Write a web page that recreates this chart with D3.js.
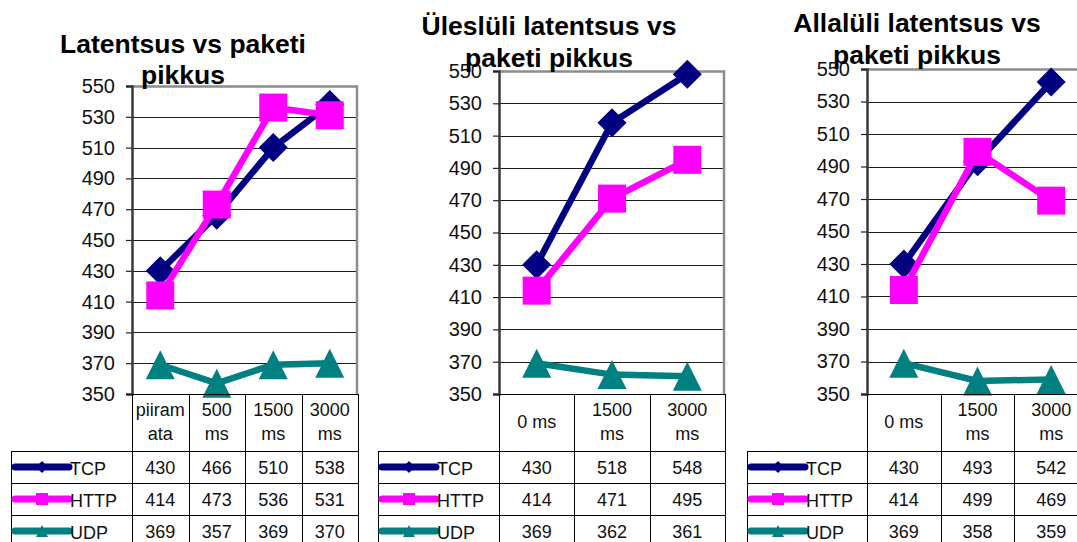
<!DOCTYPE html>
<html>
<head>
<meta charset="utf-8">
<script src="https://cdn.jsdelivr.net/npm/d3@7"></script>
<style>
  html, body { margin: 0; padding: 0; background: #fff; }
  svg { display: block; font-family: "Liberation Sans", Arial, sans-serif; }
</style>
</head>
<body>
<svg id="chart" width="1077" height="542"></svg>
<script>
// ---- Data ----
const seriesNames = ["TCP", "HTTP", "UDP"];
const seriesColors = ["#000080", "#FF00FF", "#008080"];
const seriesMarkers = ["diamond", "square", "triangle"];
const yTicks = [350, 370, 390, 410, 430, 450, 470, 490, 510, 530, 550];

// Panel 1: overall latency
const titles1 = ["Latentsus vs paketi", "pikkus"];
const categories1 = [["piiram", "ata"], ["500", "ms"], ["1500", "ms"], ["3000", "ms"]];
const tcp1 = [430, 466, 510, 538];
const http1 = [414, 473, 536, 531];
const udp1 = [369, 357, 369, 370];

// Panel 2: uplink latency
const titles2 = ["Üleslüli latentsus vs", "paketi pikkus"];
const categories2 = [["0 ms"], ["1500", "ms"], ["3000", "ms"]];
const tcp2 = [430, 518, 548];
const http2 = [414, 471, 495];
const udp2 = [369, 362, 361];

// Panel 3: downlink latency
const titles3 = ["Allalüli latentsus vs", "paketi pikkus"];
const categories3 = [["0 ms"], ["1500", "ms"], ["3000", "ms"]];
const tcp3 = [430, 493, 542];
const http3 = [414, 499, 469];
const udp3 = [369, 358, 359];

// ---- Layout of each panel ----
const panels = [
  { titles: titles1, cats: categories1, series: [tcp1, http1, udp1],
    left: 132, right: 358, top: 86, titleX: 183, titleY: [53, 84], legendLeft: 11 },
  { titles: titles2, cats: categories2, series: [tcp2, http2, udp2],
    left: 499, right: 725, top: 71, titleX: 549, titleY: [35, 67], legendLeft: 378 },
  { titles: titles3, cats: categories3, series: [tcp3, http3, udp3],
    left: 867, right: 1088, top: 69, titleX: 917, titleY: [32, 64], legendLeft: 747 }
];

const bottom = 394;          // y of value 350 / top of the data table
const headerBottom = 451;    // bottom of category header row
const rowH = 32;             // data table row height

const svg = d3.select("#chart");

function markerPath(type, size) {
  const h = size / 2;
  if (type === "diamond") return `M0,${-h}L${h},0L0,${h}L${-h},0Z`;
  if (type === "square") return `M${-h},${-h}H${h}V${h}H${-h}Z`;
  // triangle, bounding box centred on the point
  return `M0,${-h}L${h},${h}L${-h},${h}Z`;
}
const markerSize = { diamond: 29, square: 28, triangle: 29 };

panels.forEach(p => {
  const g = svg.append("g");
  const idx = p.cats.map((_, i) => i);

  const y = d3.scaleLinear().domain([350, 550]).range([bottom, p.top]);
  const x = d3.scaleBand().domain(idx).range([p.left, p.right]).padding(0);
  const cx = i => x(i) + x.bandwidth() / 2;

  // horizontal gridlines
  g.append("g").selectAll("line").data(yTicks.slice(1, -1)).join("line")
    .attr("x1", p.left).attr("x2", p.right)
    .attr("y1", d => Math.round(y(d)) + 0.5).attr("y2", d => Math.round(y(d)) + 0.5)
    .attr("stroke", "#1a1a1a").attr("stroke-width", 1.2);

  // plot area border (top and right)
  g.append("path")
    .attr("d", `M${p.left},${p.top + 0.5}H${p.right - 1}V${bottom}`)
    .attr("fill", "none").attr("stroke", "#8c8c8c").attr("stroke-width", 2.5);

  // y axis
  const yAxis = d3.axisLeft(y).tickValues(yTicks).tickSize(6).tickPadding(11)
    .tickFormat(d3.format("d"));
  const ax = g.append("g").attr("transform", `translate(${p.left},0)`).call(yAxis);
  ax.select(".domain").attr("stroke", "#3a3a3a").attr("stroke-width", 2.5);
  ax.selectAll(".tick line").attr("stroke", "#222").attr("stroke-width", 1.2);
  ax.selectAll(".tick text").attr("font-size", 20).attr("fill", "#111")
    .attr("font-family", "'Liberation Sans', Arial, sans-serif");

  // series lines and markers
  p.series.forEach((vals, s) => {
    const line = d3.line().x((d, i) => cx(i)).y(d => y(d));
    g.append("path").datum(vals).attr("d", line)
      .attr("fill", "none").attr("stroke", seriesColors[s]).attr("stroke-width", 6.5)
      .attr("stroke-linejoin", "miter");
    g.append("g").selectAll("path").data(vals).join("path")
      .attr("transform", (d, i) => `translate(${cx(i)},${y(d)})`)
      .attr("d", markerPath(seriesMarkers[s], markerSize[seriesMarkers[s]]))
      .attr("fill", seriesColors[s]);
  });

  // ---- data table ----
  const tbl = g.append("g").attr("stroke", "#000").attr("stroke-width", 1);
  const tableBottom = headerBottom + rowH * seriesNames.length;
  // vertical dividers between categories
  idx.concat([idx.length]).forEach(i => {
    const xv = Math.round(i < idx.length ? x(i) : p.right) + 0.5;
    tbl.append("line").attr("x1", xv).attr("x2", xv).attr("y1", bottom).attr("y2", tableBottom);
  });
  // legend column left edge
  tbl.append("line").attr("x1", p.legendLeft + 0.5).attr("x2", p.legendLeft + 0.5)
    .attr("y1", headerBottom).attr("y2", tableBottom);
  // horizontal row lines
  [headerBottom, headerBottom + rowH, headerBottom + 2 * rowH].forEach(yy => {
    tbl.append("line").attr("x1", p.legendLeft).attr("x2", p.right)
      .attr("y1", yy + 0.5).attr("y2", yy + 0.5);
  });
  tbl.append("line").attr("x1", p.left).attr("x2", p.right)
    .attr("y1", bottom + 0.5).attr("y2", bottom + 0.5);

  // category header labels
  p.cats.forEach((lines, i) => {
    const t = g.append("text").attr("x", cx(i)).attr("text-anchor", "middle")
      .attr("font-size", 18).attr("fill", "#111");
    if (lines.length === 1) {
      t.attr("y", 428).text(lines[0]);
    } else {
      lines.forEach((ln, k) => {
        t.append("tspan").attr("x", cx(i)).attr("y", 416 + k * 24).text(ln);
      });
    }
  });

  // table rows: legend key + values
  seriesNames.forEach((name, s) => {
    const rowTop = headerBottom + s * rowH;
    const mid = rowTop + rowH / 2;
    const kx1 = p.legendLeft + 4, kx2 = p.legendLeft + 58;
    g.append("line").attr("x1", kx1).attr("x2", kx2).attr("y1", mid).attr("y2", mid)
      .attr("stroke", seriesColors[s]).attr("stroke-width", 7).attr("stroke-linecap", "round");
    g.append("path").attr("transform", `translate(${(kx1 + kx2) / 2},${mid})`)
      .attr("d", markerPath(seriesMarkers[s], 12)).attr("fill", seriesColors[s]);
    g.append("text").attr("x", kx2 + 1).attr("y", mid + 8)
      .attr("font-size", 18).attr("fill", "#111").text(name);
    p.series[s].forEach((v, i) => {
      g.append("text").attr("x", cx(i)).attr("y", mid + 7).attr("text-anchor", "middle")
        .attr("font-size", 18).attr("fill", "#111").text(v);
    });
  });

  // title (drawn last, sits over the plot border)
  p.titles.forEach((t, k) => {
    g.append("text").attr("x", p.titleX).attr("y", p.titleY[k]).attr("text-anchor", "middle")
      .attr("font-size", 26.5).attr("font-weight", "bold").attr("fill", "#000").text(t);
  });
});
</script>
</body>
</html>
